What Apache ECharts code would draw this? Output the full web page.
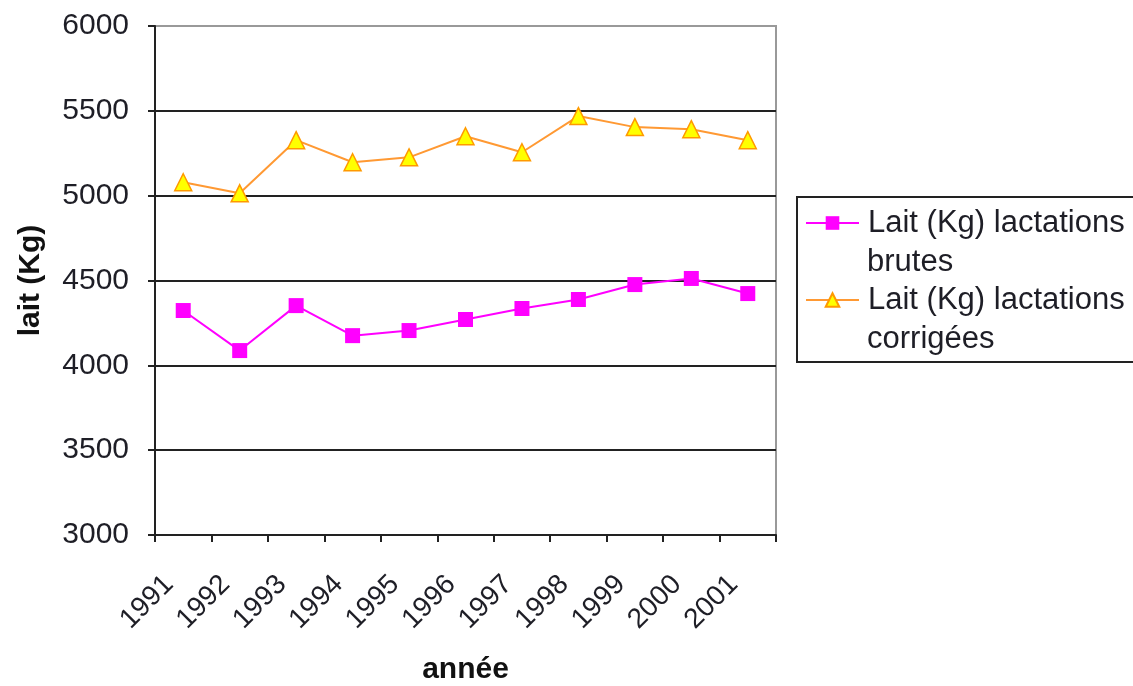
<!DOCTYPE html>
<html><head><meta charset="utf-8">
<script src="https://cdn.jsdelivr.net/npm/echarts@6/dist/echarts.min.js"></script>
<style>html,body{margin:0;padding:0;background:#fff}#c{width:1133px;height:686px}</style>
</head><body><div id="c"></div>
<script>
const years = ['1991','1992','1993','1994','1995','1996','1997','1998','1999','2000','2001'];
const brutes = [4323, 4087, 4352, 4175, 4205, 4270, 4335, 4388, 4476, 4512, 4423];
const corrigees = [5079, 5014, 5327, 5197, 5226, 5350, 5256, 5469, 5404, 5392, 5327];
const yTicks = {min: 3000, max: 6000, interval: 500};
const seriesNames = ['Lait (Kg) lactations\nbrutes', 'Lait (Kg) lactations\ncorrigées'];

const chart = echarts.init(document.getElementById('c'), null, {renderer: 'canvas'});
const font = '"Liberation Sans", Arial, sans-serif';
const txt = '#1e1e26';
chart.setOption({
  animation: false,
  backgroundColor: '#fff',
  grid: {left: 155, right: 357, top: 26, bottom: 151, outerBoundsMode: 'none', containLabel: false,
         show: true, borderColor: '#999', borderWidth: 2, backgroundColor: 'transparent'},
  xAxis: {
    type: 'category', data: years, boundaryGap: true,
    name: 'année', nameLocation: 'middle', nameGap: 120,
    nameTextStyle: {fontFamily: font, fontSize: 30, fontWeight: 'bold', color: '#111'},
    axisLine: {lineStyle: {color: '#222', width: 2}},
    axisTick: {show: true, length: 7, lineStyle: {color: '#222', width: 2}},
    axisLabel: {rotate: 45, fontFamily: font, fontSize: 28, color: txt, margin: 31, padding: [0, 20, 0, 0], interval: 0}
  },
  yAxis: {
    type: 'value', min: yTicks.min, max: yTicks.max, interval: yTicks.interval,
    name: 'lait (Kg)', nameLocation: 'middle', nameGap: 109, nameRotate: 90,
    nameTextStyle: {fontFamily: font, fontSize: 30, fontWeight: 'bold', color: '#111'},
    axisLine: {show: true, lineStyle: {color: '#222', width: 2}},
    axisTick: {show: true, length: 7, lineStyle: {color: '#222', width: 2}},
    axisLabel: {fontFamily: font, fontSize: 30, color: txt, margin: 26, formatter: v => String(v)},
    splitLine: {show: true, lineStyle: {color: ['#222','#222','#222','#222','#222','#222','#999'], width: 2}}
  },
  legend: {
    left: 805, top: 204, orient: 'vertical', itemGap: 39, padding: 0,
    itemWidth: 53, itemHeight: 17,
    formatter: n => n.split('\n')[0],
    textStyle: {fontFamily: font, fontSize: 31, color: txt, lineHeight: 38, padding: [0, 0, 0, 4]},
    data: seriesNames
  },
  graphic: [
    {type: 'rect', shape: {x: 797, y: 197, width: 345, height: 165}, style: {fill: 'none', stroke: '#222', lineWidth: 2}},
    {type: 'text', x: 867, y: 262, style: {text: seriesNames[0].split('\n')[1], font: '31px "Liberation Sans", Arial, sans-serif', fill: txt, verticalAlign: 'middle'}},
    {type: 'text', x: 867, y: 339, style: {text: seriesNames[1].split('\n')[1], font: '31px "Liberation Sans", Arial, sans-serif', fill: txt, verticalAlign: 'middle'}}
  ],
  series: [
    {name: seriesNames[0], type: 'line', data: brutes, symbol: 'rect', symbolSize: 15,
     lineStyle: {color: '#FF00FF', width: 2}, itemStyle: {color: '#FF00FF'}},
    {name: seriesNames[1], type: 'line', data: corrigees, symbol: 'triangle', symbolSize: 17,
     lineStyle: {color: '#FF9933', width: 2}, itemStyle: {color: '#FFFF00', borderColor: '#FF9900', borderWidth: 1.5}}
  ]
});
</script></body></html>
